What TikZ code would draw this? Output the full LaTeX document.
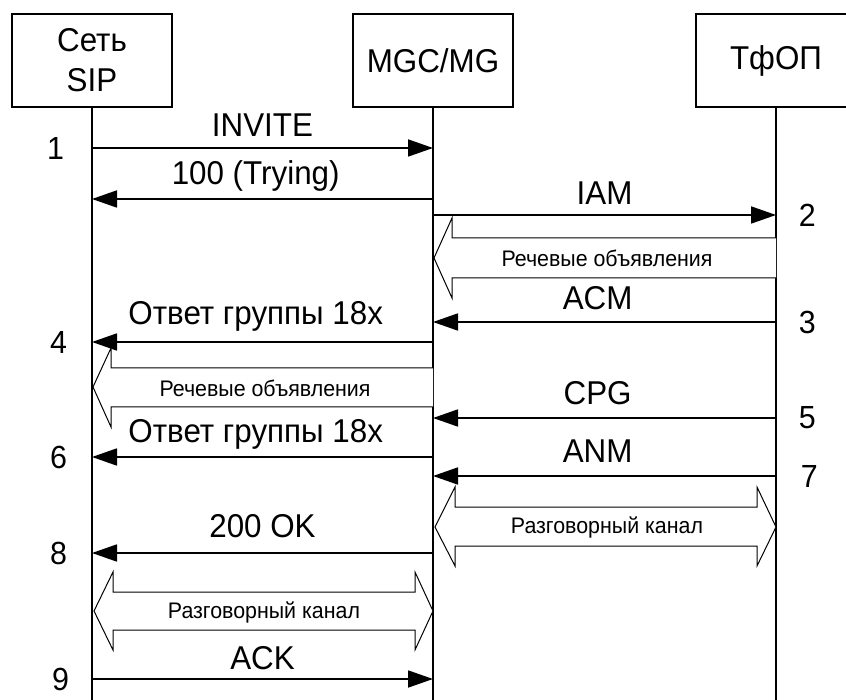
\documentclass[tikz,border=0pt]{standalone}
\usepackage{fontspec}
\setmainfont{Liberation Sans}[FakeStretch=0.95]
\usetikzlibrary{arrows.meta,positioning}

\tikzset{
  party/.style={draw, line width=1.6pt, minimum width=160pt, minimum height=93pt,
    inner sep=0pt, align=center, font=\fontsize{33}{40}\selectfont},
  life/.style={line width=1.6pt},
  msg/.style={line width=1.8pt, -{Triangle[length=25pt,width=17pt]}},
  lbl/.style={font=\fontsize{33}{36}\selectfont, inner sep=0pt, text depth=0pt, above=12pt},
  num/.style={font=\fontsize{32}{36}\selectfont, inner sep=0pt},
  voice/.style={draw, line width=1pt, fill=white},
  small/.style={font=\fontsize{22.5}{24}\selectfont, inner sep=0pt},
}

\begin{document}
\begin{tikzpicture}[x=1pt,y=-1pt]
  \useasboundingbox (0,0) rectangle (846,700);

  % Participants
  \node[party] (sip)  at (92,60.5)  {Сеть\\SIP};
  \node[party] (mgc)  at (433,60.5) {MGC/MG};
  \node[party] (pstn) at (776,60.5) {ТфОП};

  % Lifelines
  \draw[life] (sip.south)  -- (sip |- 0,700);
  \draw[life] (mgc.south)  -- (mgc |- 0,700);
  \draw[life] (pstn.south) -- (pstn |- 0,700);

  % Call setup
  \draw[msg] (sip |- 0,148) node[num, left=27pt] (n1) {1}
    -- node[lbl, above=11pt] (l1) {INVITE} (mgc |- 0,148);
  \draw[msg] (mgc |- 0,199)
    -- node[lbl, pos=.52, above=14pt] (l2) {100 (Trying)} (sip |- 0,199);
  \draw[msg] (mgc |- 0,215)
    -- node[lbl, above=10pt] (l3) {IAM} (pstn |- 0,215) node[num, right=22pt] (n2) {2};

  % Announcements from the PSTN side
  \draw[voice] (776,238) -- (452,238) -- (452,218) -- (434,258)
    -- (452,298) -- (452,278) -- (776,278);
  \node[small] (v1) at (607,258) {Речевые объявления};

  \draw[msg] (pstn |- 0,322) node[num, right=22pt] (n3) {3}
    -- node[lbl, pos=.52] (l4) {ACM} (mgc |- 0,322);
  \draw[msg] (mgc |- 0,342)
    -- node[lbl, pos=.52, above=17pt] (l5) {Ответ группы 18x} (sip |- 0,342) node[num, left=24pt] (n4) {4};

  % Announcements towards SIP
  \draw[voice] (433,368) -- (111,368) -- (111,348) -- (93,387)
    -- (111,427) -- (111,407) -- (433,407);
  \node[small] (v2) at (265,388) {Речевые объявления};

  \draw[msg] (pstn |- 0,418) node[num, right=22pt] (n5) {5}
    -- node[lbl, pos=.52, above=13pt] (l6) {CPG} (mgc |- 0,418);
  \draw[msg] (mgc |- 0,457)
    -- node[lbl, pos=.52, above=14pt] (l7) {Ответ группы 18x} (sip |- 0,457) node[num, left=24pt] (n6) {6};
  \draw[msg] (pstn |- 0,476) node[num, right=24pt] (n7) {7}
    -- node[lbl, pos=.52, above=13pt] (l8) {ANM} (mgc |- 0,476);

  % Speech channel MGC -- PSTN
  \draw[voice] (455,507) -- (757,507) -- (757,487) -- (776,527) -- (757,566)
    -- (757,546) -- (455,546) -- (455,566) -- (435,527) -- (455,487) -- cycle;
  \node[small] (v3) at (607,527) {Разговорный канал};

  \draw[msg] (mgc |- 0,553)
    -- node[lbl, above=15pt] (l9) {200 OK} (sip |- 0,553) node[num, left=24pt] (n8) {8};

  % Speech channel SIP -- MGC
  \draw[voice] (113,592) -- (415,592) -- (415,572) -- (433,611) -- (415,650)
    -- (415,630) -- (113,630) -- (113,650) -- (94,611) -- (113,572) -- cycle;
  \node[small] (v4) at (264,612) {Разговорный канал};

  \draw[msg] (sip |- 0,679) node[num, left=22pt] (n9) {9}
    -- node[lbl, above=9pt] (l10) {ACK} (mgc |- 0,679);
\end{tikzpicture}
\end{document}
